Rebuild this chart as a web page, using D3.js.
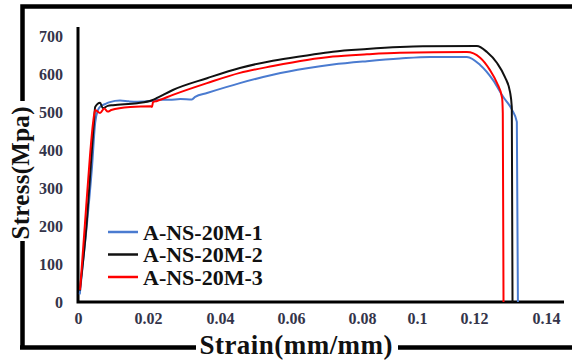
<!DOCTYPE html>
<html>
<head>
<meta charset="utf-8">
<script src="https://cdn.jsdelivr.net/npm/d3@7"></script>
<style>
  body { margin: 0; background: #fff; }
  svg { display: block; }
</style>
</head>
<body>
<div id="chart"></div>
<script>
// tick labels as printed on the axes
var xTicks = [0, 0.02, 0.04, 0.06, 0.08, 0.1, 0.12, 0.14]
var yTicks = [0, 100, 200, 300, 400, 500, 600, 700]

var seriesNames = ["A-NS-20M-1", "A-NS-20M-2", "A-NS-20M-3"]
var seriesColors = ["#4a7bd0", "#111111", "#ff0000"]

// [strain, stress]
var blue = [[0.0005,20],[0.0026,210],[0.004,356],[0.0049,472],[0.0057,506],[0.0065,516],[0.0078,522],
  [0.0091,527],[0.012,531],[0.0145,529],[0.0169,528],[0.0211,530],[0.0225,533],[0.026,533],[0.029,535],
  [0.0322,534],[0.0331,541],[0.0364,551],[0.0456,577],[0.0549,599],[0.0645,616],[0.0718,626],
  [0.0818,635],[0.0938,642],[0.1046,646],[0.1175,646],[0.1217,625],[0.1253,585],[0.1281,541],
  [0.1306,506],[0.1319,475],[0.1322,0]]

var black = [[0.0005,30],[0.0025,210],[0.0038,380],[0.0046,480],[0.0049,514],[0.0063,525],[0.0071,511],
  [0.0085,517],[0.01,519],[0.0169,524],[0.0211,532],[0.0225,538],[0.0269,559],[0.0364,590],
  [0.0456,617],[0.0549,636],[0.0645,650],[0.0718,660],[0.0818,667],[0.0938,672],[0.1021,674],
  [0.1208,675],[0.1236,659],[0.1264,630],[0.1286,593],[0.13,554],[0.1305,514],[0.1307,0]]

var red = [[0.0006,32],[0.002,208],[0.0034,383],[0.0043,472],[0.0049,506],[0.0063,498],[0.0075,510],
  [0.0085,502],[0.0095,506],[0.0149,514],[0.0208,516],[0.0211,514],[0.0214,527],[0.0225,530],
  [0.0269,546],[0.0364,577],[0.0456,604],[0.0549,622],[0.0645,638],[0.0718,647],[0.0818,653],
  [0.0938,657],[0.1175,659],[0.1217,644],[0.1244,612],[0.1264,577],[0.1278,538],[0.128,498],[0.1282,0]]

var allSeries = [blue, black, red]

var width = 572, height = 362
var font = "'Liberation Serif', 'Times New Roman', serif"

var svg = d3.select("#chart")
  .append("svg")
  .attr("width", width)
  .attr("height", height)

// the printed strain labels are not evenly spaced, so the scale follows them
var x = d3.scaleLinear()
  .domain([0, 0.02, 0.04, 0.06, 0.08, 0.1, 0.12, 0.14, 0.145])
  .range([78, 148, 220, 291, 362, 417, 474, 546, 564])

var y = d3.scaleLinear()
  .domain([0, 725])
  .range([302, 27])

// outer frame
svg.append("path")
  .attr("d", "M22.5,347.5 L22.5,6.5 L572,6.5")
  .attr("fill", "none")
  .attr("stroke", "#000")
  .attr("stroke-width", 4.5)
svg.append("line")
  .attr("x1", 20).attr("x2", 572)
  .attr("y1", 347.5).attr("y2", 347.5)
  .attr("stroke", "#000")
  .attr("stroke-width", 4.5)

// axis lines
svg.append("path")
  .attr("d", "M" + x(0) + "," + y(725) + " L" + x(0) + "," + y(0) + " L" + x(0.145) + "," + y(0))
  .attr("fill", "none")
  .attr("stroke", "#000")
  .attr("stroke-width", 3)

var yAxis = svg.append("g")
  .attr("transform", "translate(" + (x(0) - 15) + ",0)")
  .call(d3.axisLeft(y).tickValues(yTicks).tickSize(0).tickPadding(0))
yAxis.select(".domain").remove()
yAxis.selectAll("text")
  .attr("font-family", font)
  .attr("font-weight", "bold")
  .attr("font-size", 16)
  .attr("fill", "#34344a")

var xAxis = svg.append("g")
  .attr("transform", "translate(0," + (y(0) + 11) + ")")
  .call(d3.axisBottom(x).tickValues(xTicks).tickSize(0).tickPadding(0).tickFormat(d3.format("")))
xAxis.select(".domain").remove()
xAxis.selectAll("text")
  .attr("font-family", font)
  .attr("font-weight", "bold")
  .attr("font-size", 16)
  .attr("fill", "#34344a")

// curves
var line = d3.line()
  .x(function(d){ return x(d[0]); })
  .y(function(d){ return y(d[1]); })
  .curve(d3.curveMonotoneX)

svg.append("g")
  .selectAll("path")
  .data(allSeries)
  .join("path")
  .attr("d", line)
  .attr("fill", "none")
  .attr("stroke", function(d, i){ return seriesColors[i]; })
  .attr("stroke-width", 2)
  .attr("stroke-linejoin", "round")

// legend
var legend = svg.append("g")
  .selectAll("g")
  .data(seriesNames)
  .join("g")
  .attr("transform", function(d, i){ return "translate(108," + (232 + i * 22.5) + ")"; })

legend.append("line")
  .attr("x1", 0).attr("x2", 30)
  .attr("stroke", function(d, i){ return seriesColors[i]; })
  .attr("stroke-width", 2.5)

legend.append("text")
  .attr("x", 35)
  .attr("y", 7.5)
  .attr("font-family", font)
  .attr("font-weight", "bold")
  .attr("font-size", 22)
  .attr("fill", "#111")
  .text(function(d){ return d; })

// axis titles sit on the frame with a white gap
svg.append("rect")
  .attr("x", 196).attr("y", 338).attr("width", 202).attr("height", 24)
  .attr("fill", "#fff")
svg.append("text")
  .attr("x", 296)
  .attr("y", 354)
  .attr("text-anchor", "middle")
  .attr("font-family", font)
  .attr("font-weight", "bold")
  .attr("font-size", 27)
  .attr("textLength", 193)
  .attr("fill", "#111")
  .text("Strain(mm/mm)")

svg.append("rect")
  .attr("x", 6).attr("y", 101).attr("width", 30).attr("height", 140)
  .attr("fill", "#fff")
svg.append("text")
  .attr("transform", "translate(29,173) rotate(-90)")
  .attr("text-anchor", "middle")
  .attr("font-family", font)
  .attr("font-weight", "bold")
  .attr("font-size", 25)
  .attr("textLength", 133)
  .attr("fill", "#111")
  .text("Stress(Mpa)")
</script>
</body>
</html>
